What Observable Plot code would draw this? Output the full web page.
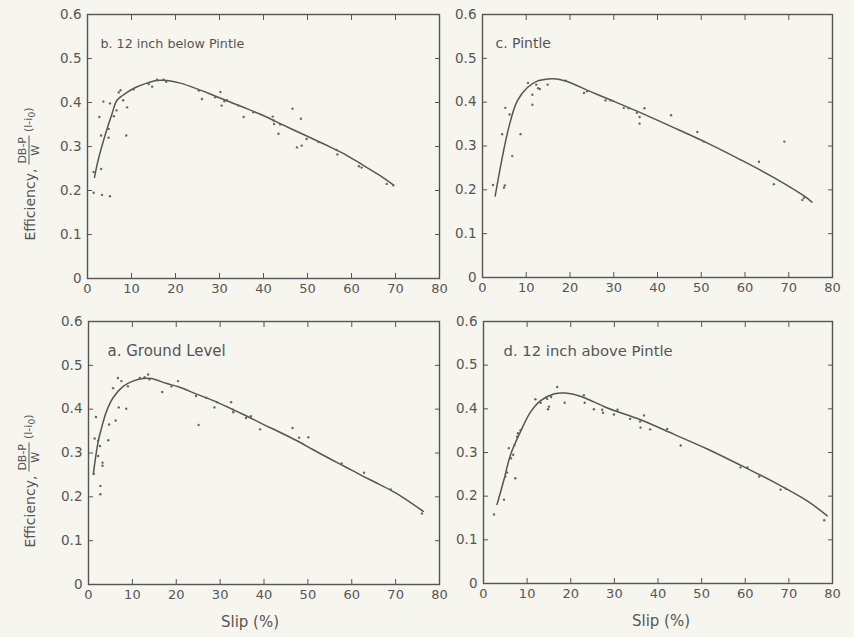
<!DOCTYPE html>
<html><head><meta charset="utf-8">
<script src="https://cdn.jsdelivr.net/npm/d3@7"></script>
<script src="https://cdn.jsdelivr.net/npm/@observablehq/plot@0.6"></script>
<style>
body{margin:0;background:#f6f6ef;}
#wrap{position:relative;width:854px;height:637px;overflow:hidden;background:#f6f6ef;font-family:"DejaVu Sans",sans-serif;color:#555;}
#wrap svg{position:absolute;}
.ylab{position:absolute;white-space:nowrap;font-size:14px;color:#555;transform:translate(-50%,-50%) rotate(-90deg);display:flex;align-items:center;gap:4px;}
.frac{display:inline-flex;flex-direction:column;align-items:center;font-size:11px;line-height:12px;}
.frac .num{border-bottom:1px solid #555;padding:0 1px;}
.paren{font-size:11px;}
</style></head><body><div id="wrap"></div>
<script>
// ---- tick values ----
const xTicks = [0, 10, 20, 30, 40, 50, 60, 70, 80];
const yTicks = [0, 0.1, 0.2, 0.3, 0.4, 0.5, 0.6];
const xTitle = "Slip (%)";

// ---- panel b: 12 inch below Pintle (top-left) ----
const bTitle = "b. 12 inch below Pintle";
const bSlip = [1.4,2.7,3.6,5.1,3.1,4.8,4.8,3.1,1.4,3.3,5.1,6.0,6.6,7.1,7.5,8.1,9.0,8.8,10.5,13.9,14.7,15.8,17.3,17.9,25.3,26.0,29.0,30.2,30.5,31.1,31.7,34.3,35.5,37.7,42.1,42.3,42.4,43.4,43.8,46.6,47.6,48.7,48.5,49.8,52.5,56.6,56.8,61.7,62.3,68.0,69.5];
const bEff  = [0.242,0.367,0.402,0.398,0.325,0.320,0.340,0.249,0.195,0.190,0.187,0.369,0.382,0.423,0.428,0.405,0.389,0.325,0.430,0.442,0.436,0.452,0.452,0.447,0.427,0.408,0.412,0.424,0.393,0.403,0.405,0.393,0.367,0.378,0.368,0.359,0.351,0.329,0.350,0.386,0.298,0.302,0.363,0.317,0.310,0.292,0.282,0.255,0.252,0.215,0.212];
const bCurveSlip = [1.6,2.4,4.1,5.6,6.7,9.0,10.9,13.5,15.8,18.1,21.1,24.9,28.7,32.4,36.2,40.7,43.8,47.6,51.3,55.1,58.9,62.7,66.5,69.5];
const bCurveEff  = [0.230,0.268,0.329,0.375,0.405,0.423,0.434,0.444,0.450,0.450,0.444,0.431,0.416,0.401,0.386,0.367,0.352,0.334,0.317,0.299,0.280,0.257,0.234,0.213];

// ---- panel c: Pintle (top-right) ----
const cTitle = "c. Pintle";
const cSlip = [2.4,4.5,5.2,5.1,4.9,6.2,6.8,8.7,10.4,11.4,11.4,12.3,12.7,13.1,14.9,19.0,23.2,23.9,28.1,29.3,32.3,33.4,35.3,35.9,35.9,37.0,43.1,49.1,50.6,63.2,66.6,69.0,73.1,73.5];
const cEff  = [0.211,0.327,0.387,0.210,0.205,0.372,0.277,0.327,0.444,0.417,0.394,0.440,0.432,0.430,0.440,0.449,0.421,0.425,0.404,0.404,0.387,0.386,0.376,0.366,0.351,0.386,0.370,0.332,0.310,0.264,0.213,0.310,0.177,0.182];
const cCurveSlip = [2.9,4.5,6.0,7.9,10.2,12.5,14.9,17.0,19.4,24.7,30.0,36.1,43.7,51.3,58.9,66.6,73.5,75.3];
const cCurveEff  = [0.186,0.273,0.342,0.402,0.433,0.448,0.453,0.453,0.447,0.424,0.402,0.376,0.342,0.307,0.269,0.228,0.186,0.172];

// ---- panel a: Ground Level (bottom-left) ----
const aTitle = "a. Ground Level";
const aSlip = [1.2,1.7,1.4,2.2,2.2,2.6,2.7,2.7,3.2,3.2,4.5,4.7,5.6,6.2,6.7,7.5,6.9,8.6,9.0,11.7,12.8,13.6,13.9,16.8,18.9,20.4,24.5,25.1,26.8,28.7,29.3,32.5,32.9,33.0,35.9,37.0,39.1,46.5,48.0,50.1,57.7,62.8,68.9,76.0];
const aEff  = [0.252,0.382,0.333,0.328,0.293,0.316,0.225,0.206,0.278,0.271,0.329,0.365,0.448,0.374,0.471,0.464,0.404,0.401,0.452,0.471,0.473,0.479,0.468,0.439,0.452,0.464,0.430,0.364,0.426,0.404,0.416,0.416,0.399,0.393,0.380,0.384,0.354,0.357,0.335,0.336,0.276,0.255,0.217,0.162];
const aCurveSlip = [1.1,2.2,3.0,4.1,5.6,7.9,10.1,12.4,14.3,17.7,20.8,24.5,28.3,32.1,35.9,39.7,43.5,47.3,51.1,54.8,58.6,62.4,66.2,70.0,76.3];
const aCurveEff  = [0.252,0.326,0.358,0.395,0.426,0.452,0.464,0.470,0.470,0.459,0.450,0.435,0.420,0.403,0.385,0.366,0.348,0.329,0.308,0.288,0.268,0.248,0.229,0.209,0.167];

// ---- panel d: 12 inch above Pintle (bottom-right) ----
const dTitle = "d. 12 inch above Pintle";
const dSlip = [2.4,4.7,5.0,5.4,5.8,6.3,6.8,7.1,7.3,7.7,7.9,8.5,11.9,13.1,14.6,15.0,14.8,15.5,16.9,18.6,23.0,23.2,25.3,27.2,27.4,29.9,30.7,33.6,35.9,36.0,36.8,38.2,42.1,45.2,58.9,60.5,63.2,68.1,69.3,78.1];
const dEff  = [0.158,0.192,0.245,0.254,0.310,0.287,0.295,0.317,0.241,0.336,0.344,0.351,0.422,0.414,0.423,0.405,0.399,0.427,0.450,0.414,0.431,0.414,0.399,0.398,0.391,0.387,0.398,0.377,0.371,0.357,0.385,0.353,0.354,0.316,0.266,0.266,0.245,0.215,0.217,0.145];
const dCurveSlip = [3.1,4.7,6.2,8.5,10.8,13.1,16.1,18.8,22.2,28.4,36.0,43.6,51.3,58.9,66.6,74.2,78.8];
const dCurveEff  = [0.181,0.238,0.295,0.348,0.393,0.419,0.434,0.436,0.429,0.402,0.375,0.342,0.308,0.271,0.232,0.189,0.155];

const ink = "#555";
const wrap = document.getElementById("wrap");

function toRows(xs, ys) { return xs.map((x, i) => ({slip: x, eff: ys[i]})); }

function panel(o) {
  const pts = toRows(o.slip, o.eff);
  const curve = toRows(o.cSlip, o.cEff);
  const marks = [
    Plot.frame({stroke: ink, strokeWidth: 1.4}),
    Plot.axisX(xTicks, {anchor: "bottom", tickSize: -5, tickPadding: 10, label: null, fontSize: 13, stroke: ink, fill: ink}),
    Plot.axisX(xTicks, {anchor: "top", tickSize: -5, fill: "none", label: null, stroke: ink}),
    Plot.axisY(yTicks, {anchor: "left", tickSize: -5, tickPadding: 11, label: null, fontSize: 13.5, stroke: ink, fill: ink,
      tickFormat: d => d === 0 ? "0" : d.toFixed(1)}),
    Plot.axisY(yTicks, {anchor: "right", tickSize: -5, fill: "none", label: null, stroke: ink}),
    Plot.line(curve, {x: "slip", y: "eff", stroke: ink, strokeWidth: 1.5, curve: "catmull-rom"}),
    Plot.dot(pts, {x: "slip", y: "eff", r: 1.2, fill: "#666", stroke: null}),
    Plot.text([o.title], {frameAnchor: "top-left", dx: o.titleDx, dy: 24, textAnchor: "start", fontSize: o.titleSize, fill: ink})
  ];
  if (o.showXTitle) marks.push(Plot.text([xTitle], {frameAnchor: "bottom", dy: 42, dx: o.xTitleDx, fontSize: 15, fill: ink}));
  const svg = Plot.plot({
    width: o.width, height: o.height,
    marginLeft: o.mL, marginRight: o.mR, marginTop: o.mT, marginBottom: o.mB,
    style: {background: "transparent", color: ink, fontFamily: "DejaVu Sans, sans-serif"},
    x: {domain: [0, 80]},
    y: {domain: [0, 0.6]},
    marks
  });
  svg.style.left = o.left + "px";
  svg.style.top = o.top + "px";
  wrap.appendChild(svg);
}

panel({title: bTitle, slip: bSlip, eff: bEff, cSlip: bCurveSlip, cEff: bCurveEff, titleSize: 12.7, titleDx: 13,
  left: 0, top: 0, width: 460, height: 300, mL: 87, mR: 21, mT: 14, mB: 22});
panel({title: cTitle, slip: cSlip, eff: cEff, cSlip: cCurveSlip, cEff: cCurveEff, titleSize: 14, titleDx: 13,
  left: 430, top: 0, width: 424, height: 300, mL: 52, mR: 22, mT: 14, mB: 23});
panel({title: aTitle, slip: aSlip, eff: aEff, cSlip: aCurveSlip, cEff: aCurveEff, titleSize: 15, titleDx: 19,
  left: 0, top: 300, width: 460, height: 337, mL: 88, mR: 21, mT: 21, mB: 53, showXTitle: true, xTitleDx: -14});
panel({title: dTitle, slip: dSlip, eff: dEff, cSlip: dCurveSlip, cEff: dCurveEff, titleSize: 14.8, titleDx: 20,
  left: 430, top: 300, width: 424, height: 337, mL: 53, mR: 22, mT: 21, mB: 54, showXTitle: true, xTitleDx: 3});

// y-axis titles (one per row)
function yLabel(cx, cy) {
  const d = document.createElement("div");
  d.className = "ylab";
  d.style.left = cx + "px";
  d.style.top = cy + "px";
  d.innerHTML = '<span>Efficiency,</span><span class="frac"><span class="num">DB-P</span><span>W</span></span><span class="paren">(l-i<sub>0</sub>)</span>';
  wrap.appendChild(d);
}
yLabel(29, 174);
yLabel(29, 481);
</script></body></html>
